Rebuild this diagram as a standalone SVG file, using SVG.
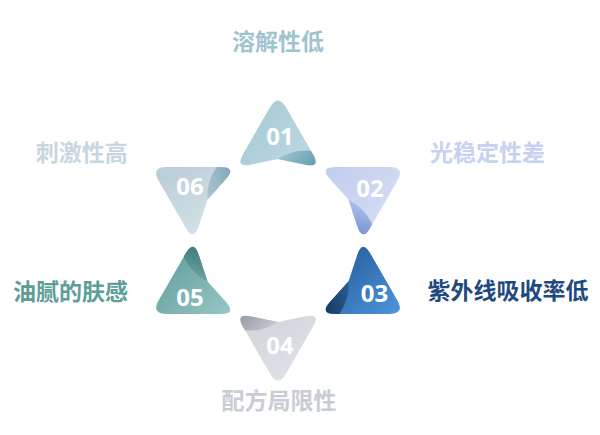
<svg xmlns="http://www.w3.org/2000/svg" xmlns:xlink="http://www.w3.org/1999/xlink" width="600" height="435" viewBox="0 0 600 435">
<style>
.num { font-family: "Open Sans", "Noto Sans", "DejaVu Sans", sans-serif; font-weight: 700; font-size: 24px; fill: #ffffff; text-anchor: middle; }
.lbl { font-family: "Noto Sans CJK SC", "Noto Sans CJK JP", sans-serif; font-weight: 700; font-size: 23px; text-anchor: middle; }
</style>
<defs>
<path id="body" d="M270,107.36 Q278,93.5 286,107.36 L313,154.14 Q321,168 305.34,164.72 L278,159 L250.66,164.72 Q235,168 243,154.14 Z"/>
<path id="fold" d="M278,159 L305.34,164.72 Q321,168 313,154.14 L311,150.7 Q293,149 278,159 Z"/>
<linearGradient id="g1b" gradientUnits="userSpaceOnUse" x1="240" y1="110" x2="316" y2="168"><stop offset="0" stop-color="#a6c9d3"/><stop offset="1" stop-color="#bfdae2"/></linearGradient>
<linearGradient id="g2b" gradientUnits="userSpaceOnUse" x1="322" y1="172" x2="398" y2="230" gradientTransform="rotate(-60 278 240.5)"><stop offset="0" stop-color="#c1cdee"/><stop offset="1" stop-color="#d8dff4"/></linearGradient>
<linearGradient id="g3b" gradientUnits="userSpaceOnUse" x1="345" y1="250" x2="400" y2="310" gradientTransform="rotate(-120 278 240.5)"><stop offset="0" stop-color="#28609e"/><stop offset="1" stop-color="#4c94da"/></linearGradient>
<linearGradient id="g4b" gradientUnits="userSpaceOnUse" x1="260" y1="313" x2="300" y2="379" gradientTransform="rotate(-180 278 240.5)"><stop offset="0" stop-color="#d1d5da"/><stop offset="1" stop-color="#dfe2e6"/></linearGradient>
<linearGradient id="g5b" gradientUnits="userSpaceOnUse" x1="175" y1="250" x2="234" y2="310" gradientTransform="rotate(-240 278 240.5)"><stop offset="0" stop-color="#65a19f"/><stop offset="1" stop-color="#98c7c4"/></linearGradient>
<linearGradient id="g6b" gradientUnits="userSpaceOnUse" x1="170" y1="172" x2="215" y2="237" gradientTransform="rotate(-300 278 240.5)"><stop offset="0" stop-color="#bbcfd9"/><stop offset="1" stop-color="#d7e4ea"/></linearGradient>
<linearGradient id="g1f" x1="0" y1="0.4" x2="1" y2="0.8"><stop offset="0" stop-color="#9cc4ce"/><stop offset="1" stop-color="#68a0b1"/></linearGradient>
<linearGradient id="g2f" x1="0" y1="0.4" x2="1" y2="0.8"><stop offset="0" stop-color="#b5c3ea"/><stop offset="1" stop-color="#7995d5"/></linearGradient>
<linearGradient id="g3f" x1="0" y1="0.4" x2="1" y2="0.8"><stop offset="0" stop-color="#2b5d92"/><stop offset="1" stop-color="#163d69"/></linearGradient>
<linearGradient id="g4f" x1="0" y1="0.4" x2="1" y2="0.8"><stop offset="0" stop-color="#c6cad0"/><stop offset="1" stop-color="#989ea8"/></linearGradient>
<linearGradient id="g5f" x1="0" y1="0.4" x2="1" y2="0.8"><stop offset="0" stop-color="#6aa3a0"/><stop offset="1" stop-color="#437e7b"/></linearGradient>
<linearGradient id="g6f" x1="0" y1="0.4" x2="1" y2="0.8"><stop offset="0" stop-color="#b0c8d3"/><stop offset="1" stop-color="#84a8ba"/></linearGradient>
</defs>

<g id="node-01">
<use href="#body" xlink:href="#body" fill="url(#g1b)"/>
<use href="#fold" xlink:href="#fold" fill="url(#g1f)"/>
<text class="num" x="280" y="145">01</text>
<text class="lbl" x="278" y="50" fill="#a0c4cf">溶解性低</text>
</g>

<g id="node-02">
<use href="#body" xlink:href="#body" fill="url(#g2b)" transform="rotate(60 278 240.5)"/>
<use href="#fold" xlink:href="#fold" fill="url(#g2f)" transform="rotate(60 278 240.5)"/>
<text class="num" x="370" y="197">02</text>
<text class="lbl" x="487.5" y="161" fill="#c6d2f0">光稳定性差</text>
</g>

<g id="node-03">
<use href="#body" xlink:href="#body" fill="url(#g3b)" transform="rotate(120 278 240.5)"/>
<use href="#fold" xlink:href="#fold" fill="url(#g3f)" transform="rotate(120 278 240.5)"/>
<text class="num" x="374.5" y="301.5">03</text>
<text class="lbl" x="508" y="299" fill="#1e4a80">紫外线吸收率低</text>
</g>

<g id="node-04">
<use href="#body" xlink:href="#body" fill="url(#g4b)" transform="rotate(180 278 240.5)"/>
<use href="#fold" xlink:href="#fold" fill="url(#g4f)" transform="rotate(180 278 240.5)"/>
<text class="num" x="280" y="354">04</text>
<text class="lbl" x="279" y="408.5" fill="#c9cdd3">配方局限性</text>
</g>

<g id="node-05">
<use href="#body" xlink:href="#body" fill="url(#g5b)" transform="rotate(240 278 240.5)"/>
<use href="#fold" xlink:href="#fold" fill="url(#g5f)" transform="rotate(240 278 240.5)"/>
<text class="num" x="190" y="306">05</text>
<text class="lbl" x="70.5" y="300" fill="#5d9d9a">油腻的肤感</text>
</g>

<g id="node-06">
<use href="#body" xlink:href="#body" fill="url(#g6b)" transform="rotate(300 278 240.5)"/>
<use href="#fold" xlink:href="#fold" fill="url(#g6f)" transform="rotate(300 278 240.5)"/>
<text class="num" x="190" y="195">06</text>
<text class="lbl" x="81.7" y="161" fill="#c7d7e0">刺激性高</text>
</g>
</svg>
